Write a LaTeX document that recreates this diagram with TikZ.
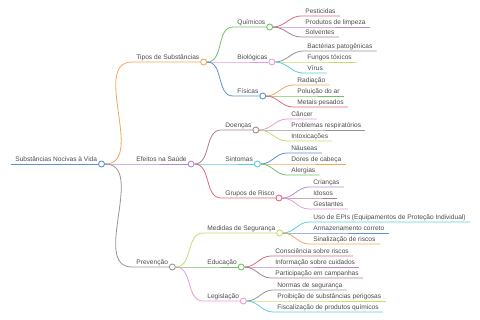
\documentclass[tikz,border=0pt]{standalone}
\usepackage{fontspec}
\setmainfont{Liberation Sans}
\definecolor{textgrey}{HTML}{4A4A4A}
\definecolor{cblue}{HTML}{5B93D3}
\definecolor{corange}{HTML}{F2A65A}
\definecolor{cpurple}{HTML}{B58BD9}
\definecolor{cgrey}{HTML}{959595}
\definecolor{cgreen}{HTML}{72C167}
\definecolor{cpink}{HTML}{E89BD6}
\definecolor{cred}{HTML}{E0697A}
\definecolor{cmauve}{HTML}{A8818F}
\definecolor{ccyan}{HTML}{5CCFDE}
\definecolor{cyellow}{HTML}{C8DB6E}
\begin{document}
\begin{tikzpicture}[x=1pt, y=-1pt, line width=0.8pt,
  lbl/.style={anchor=south west, inner xsep=4pt, inner ysep=0pt,
    text height=4.8pt, text depth=1.8pt,
    font=\fontsize{6.6}{7}\selectfont, text=textgrey},
  hub/.style={circle, draw=#1, fill=white, inner sep=0pt,
    minimum size=6pt, line width=0.9pt},
  link/.style={out=0, in=180}]
  \useasboundingbox (0,0) rectangle (480,320);

  % root and first level
  \node[lbl] (root) at (11,164) {Substâncias Nocivas à Vida};
  \node[hub=cblue] (root-c) at (root.south east) {};
  \node[lbl] (tipos) at (132,62) {Tipos de Substâncias};
  \node[hub=corange] (tipos-c) at (tipos.south east) {};
  \node[lbl] (efeit) at (132,164) {Efeitos na Saúde};
  \node[hub=cpurple] (efeit-c) at (efeit.south east) {};
  \node[lbl] (prev) at (132,267) {Prevenção};
  \node[hub=cgrey] (prev-c) at (prev.south east) {};

  % second level
  \node[lbl] (quim) at (233,27) {Químicos};
  \node[hub=cgreen] (quim-c) at (quim.south east) {};
  \node[lbl] (biol) at (233,62) {Biológicas};
  \node[hub=cpink] (biol-c) at (biol.south east) {};
  \node[lbl] (fis) at (233,96) {Físicas};
  \node[hub=cblue] (fis-c) at (fis.south east) {};
  \node[lbl] (doen) at (221,130) {Doenças};
  \node[hub=cmauve] (doen-c) at (doen.south east) {};
  \node[lbl] (sint) at (221,164) {Sintomas};
  \node[hub=ccyan] (sint-c) at (sint.south east) {};
  \node[lbl] (grup) at (221,198) {Grupos de Risco};
  \node[hub=cred] (grup-c) at (grup.south east) {};
  \node[lbl] (medi) at (203,233) {Medidas de Segurança};
  \node[hub=cyellow] (medi-c) at (medi.south east) {};
  \node[lbl] (educ) at (203,267) {Educação};
  \node[hub=cgreen] (educ-c) at (educ.south east) {};
  \node[lbl] (legi) at (203,301) {Legislação};
  \node[hub=cpink] (legi-c) at (legi.south east) {};

  % leaves
  \node[lbl] (pest) at (301,16) {Pesticidas};
  \node[lbl] (limp) at (301,27) {Produtos de limpeza};
  \node[lbl] (solv) at (301,37) {Solventes};
  \node[lbl] (bact) at (303,51) {Bactérias patogênicas};
  \node[lbl] (fung) at (303,62) {Fungos tóxicos};
  \node[lbl] (viru) at (303,73) {Vírus};
  \node[lbl] (radi) at (293,85) {Radiação};
  \node[lbl] (polu) at (293,96) {Poluição do ar};
  \node[lbl] (meta) at (293,107) {Metais pesados};
  \node[lbl] (canc) at (287,119) {Câncer};
  \node[lbl] (resp) at (287,130) {Problemas respiratórios};
  \node[lbl] (intox) at (287,141) {Intoxicações};
  \node[lbl] (naus) at (287,153) {Náuseas};
  \node[lbl] (dore) at (287,164) {Dores de cabeça};
  \node[lbl] (aler) at (287,175) {Alergias};
  \node[lbl] (cria) at (309,187) {Crianças};
  \node[lbl] (idos) at (309,198) {Idosos};
  \node[lbl] (gest) at (309,209) {Gestantes};
  \node[lbl] (epis) at (309,222) {Uso de EPIs (Equipamentos de Proteção Individual)};
  \node[lbl] (arma) at (309,233) {Armazenamento correto};
  \node[lbl] (sina) at (309,244) {Sinalização de riscos};
  \node[lbl] (cons) at (271,256) {Consciência sobre riscos};
  \node[lbl] (info) at (271,267) {Informação sobre cuidados};
  \node[lbl] (part) at (271,278) {Participação em campanhas};
  \node[lbl] (norm) at (273,290) {Normas de segurança};
  \node[lbl] (proi) at (273,301) {Proibição de substâncias perigosas};
  \node[lbl] (fisc) at (273,312) {Fiscalização de produtos químicos};

  % connectors
  \draw[cblue] (root.south west) -- (root-c);
  \draw[corange] (root-c) to[link] (tipos.south west) -- (tipos-c);
  \draw[cpurple] (root-c) to[link] (efeit.south west) -- (efeit-c);
  \draw[cgrey] (root-c) to[link] (prev.south west) -- (prev-c);

  \draw[cgreen] (tipos-c) to[link] (quim.south west) -- (quim-c);
  \draw[cpink] (tipos-c) to[link] (biol.south west) -- (biol-c);
  \draw[cblue] (tipos-c) to[link] (fis.south west) -- (fis-c);
  \draw[cmauve] (efeit-c) to[link] (doen.south west) -- (doen-c);
  \draw[ccyan] (efeit-c) to[link] (sint.south west) -- (sint-c);
  \draw[cred] (efeit-c) to[link] (grup.south west) -- (grup-c);
  \draw[cyellow] (prev-c) to[link] (medi.south west) -- (medi-c);
  \draw[cgreen] (prev-c) to[link] (educ.south west) -- (educ-c);
  \draw[cpink] (prev-c) to[link] (legi.south west) -- (legi-c);

  \draw[cred] (quim-c) to[link] (pest.south west) -- (pest.south east);
  \draw[cpurple] (quim-c) to[link] (limp.south west) -- (limp.south east);
  \draw[cmauve] (quim-c) to[link] (solv.south west) -- (solv.south east);
  \draw[cgrey] (biol-c) to[link] (bact.south west) -- (bact.south east);
  \draw[cyellow] (biol-c) to[link] (fung.south west) -- (fung.south east);
  \draw[ccyan] (biol-c) to[link] (viru.south west) -- (viru.south east);
  \draw[corange] (fis-c) to[link] (radi.south west) -- (radi.south east);
  \draw[cgreen] (fis-c) to[link] (polu.south west) -- (polu.south east);
  \draw[cred] (fis-c) to[link] (meta.south west) -- (meta.south east);

  \draw[cpink] (doen-c) to[link] (canc.south west) -- (canc.south east);
  \draw[cgrey] (doen-c) to[link] (resp.south west) -- (resp.south east);
  \draw[cyellow] (doen-c) to[link] (intox.south west) -- (intox.south east);
  \draw[cblue] (sint-c) to[link] (naus.south west) -- (naus.south east);
  \draw[corange] (sint-c) to[link] (dore.south west) -- (dore.south east);
  \draw[cgreen] (sint-c) to[link] (aler.south west) -- (aler.south east);
  \draw[cpurple] (grup-c) to[link] (cria.south west) -- (cria.south east);
  \draw[cmauve] (grup-c) to[link] (idos.south west) -- (idos.south east);
  \draw[cpink] (grup-c) to[link] (gest.south west) -- (gest.south east);

  \draw[ccyan] (medi-c) to[link] (epis.south west) -- (epis.south east);
  \draw[cblue] (medi-c) to[link] (arma.south west) -- (arma.south east);
  \draw[corange] (medi-c) to[link] (sina.south west) -- (sina.south east);
  \draw[cred] (educ-c) to[link] (cons.south west) -- (cons.south east);
  \draw[cpurple] (educ-c) to[link] (info.south west) -- (info.south east);
  \draw[cmauve] (educ-c) to[link] (part.south west) -- (part.south east);
  \draw[cgrey] (legi-c) to[link] (norm.south west) -- (norm.south east);
  \draw[cyellow] (legi-c) to[link] (proi.south west) -- (proi.south east);
  \draw[ccyan] (legi-c) to[link] (fisc.south west) -- (fisc.south east);
\end{tikzpicture}
\end{document}
